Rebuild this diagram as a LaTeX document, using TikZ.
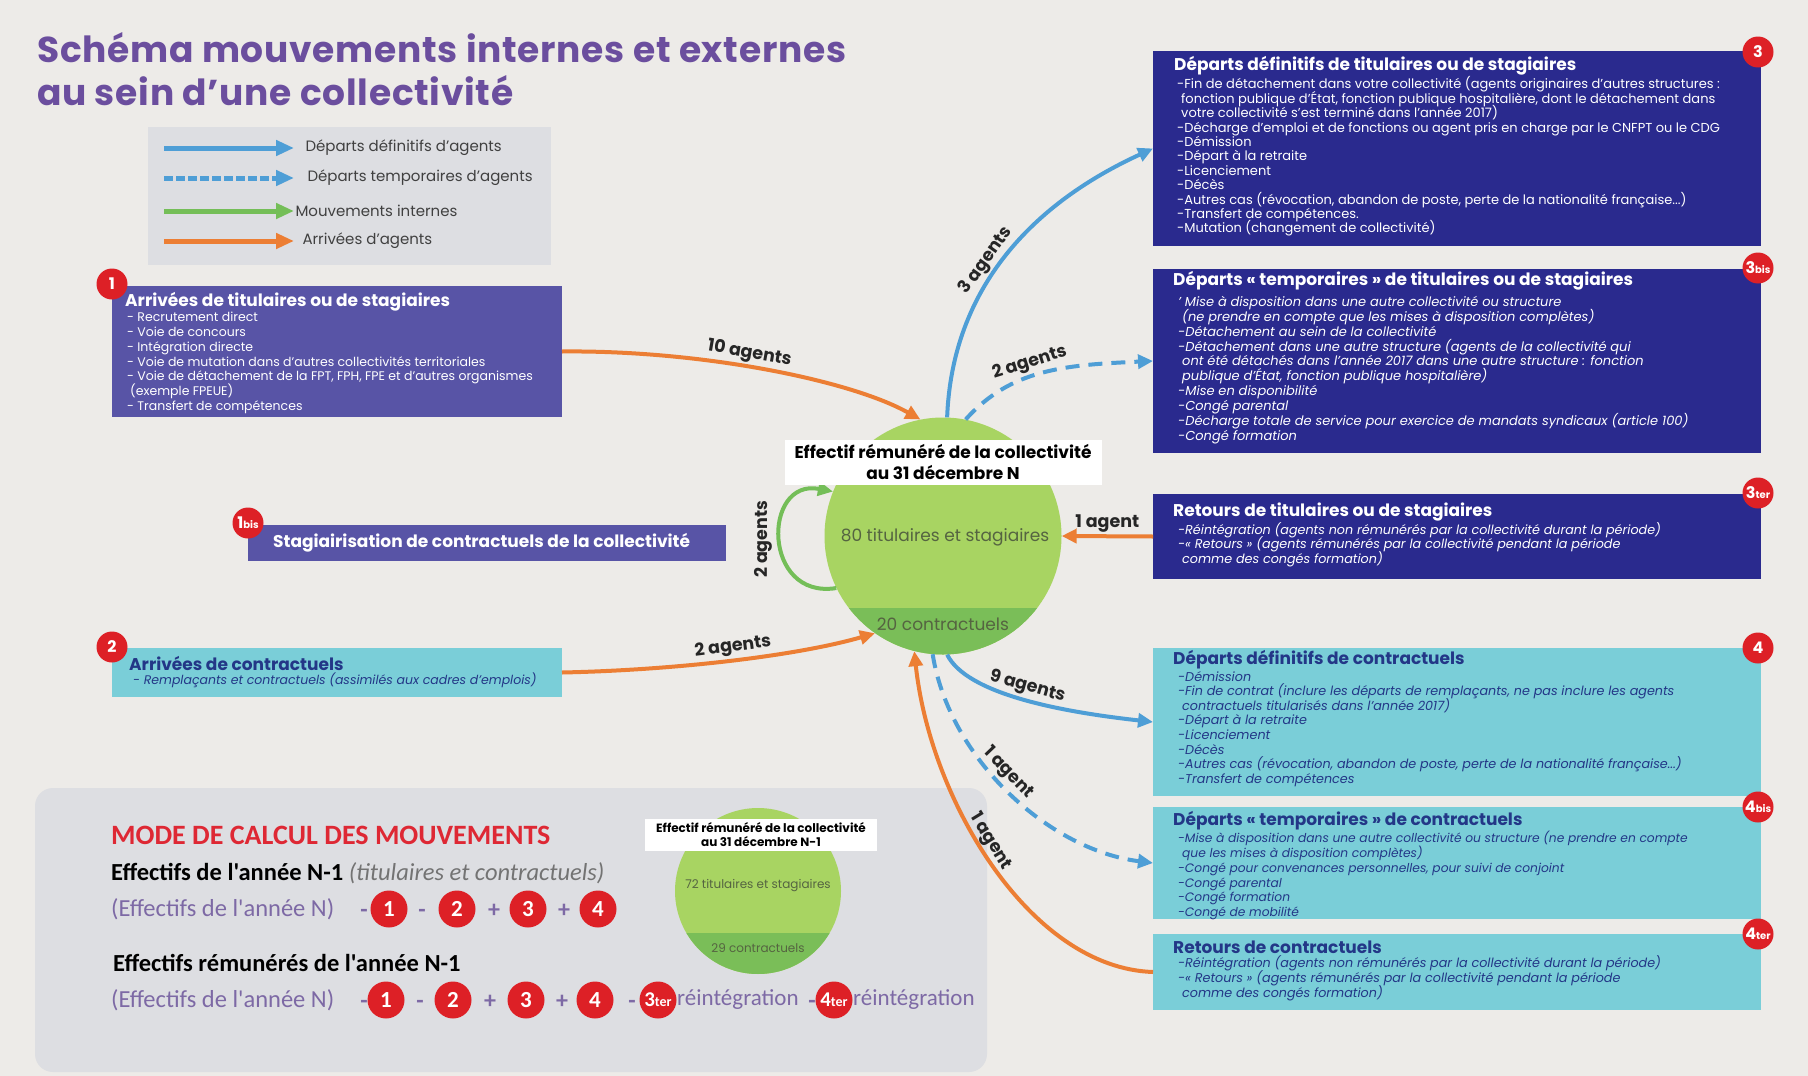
\documentclass[tikz,border=0pt]{standalone}
\usepackage{fontspec}
\setmainfont{Poppins}
\newfontfamily\carl{Carlito}
\usetikzlibrary{arrows.meta}
\definecolor{bg}{RGB}{237,235,232}
\definecolor{legbg}{RGB}{221,222,226}
\definecolor{ttl}{RGB}{107,78,158}
\definecolor{purp}{RGB}{88,84,166}
\definecolor{navy}{RGB}{42,42,142}
\definecolor{cyanb}{RGB}{122,206,216}
\definecolor{dblue}{RGB}{35,55,135}
\definecolor{bluea}{RGB}{78,158,214}
\definecolor{orangea}{RGB}{236,126,52}
\definecolor{greena}{RGB}{116,190,88}
\definecolor{lgreen}{RGB}{168,212,98}
\definecolor{dgreen}{RGB}{122,190,88}
\definecolor{redb}{RGB}{221,32,38}
\definecolor{frm}{RGB}{125,105,165}
\definecolor{circtxt}{RGB}{85,100,65}
\definecolor{redt}{RGB}{222,40,52}
\begin{document}
\lineskiplimit=-100pt
\lineskip=0pt
\begin{tikzpicture}[x=1pt,y=-1pt,
 badge/.style={circle, fill=redb, text=white, inner sep=0pt, minimum size=31pt, font=\bfseries\fontsize{16}{16}\selectfont},
 fbadge/.style={circle, fill=redb, text=white, inner sep=0pt, minimum size=37pt, font=\carl\bfseries\fontsize{23}{23}\selectfont},
 bx/.style={anchor=north west, inner sep=0pt, outer sep=0pt},
 btitle/.style={anchor=west, inner sep=0pt, font=\bfseries\fontsize{17}{20}\selectfont},
 blist/.style={anchor=north west, inner sep=0pt, align=left},
 arr/.style={line width=4pt, -{Triangle[length=15pt,width=14pt]}},
 darr/.style={arr, dash pattern=on 14pt off 9pt},
 lab/.style={font=\bfseries\fontsize{17.5}{17.5}\selectfont, text=black!85, inner sep=2pt},
 legt/.style={anchor=west, font=\fontsize{15}{15}\selectfont, text=black!75},
 frmt/.style={anchor=west, inner sep=0pt, font=\carl\fontsize{24.5}{24.5}\selectfont, text=frm},
 op/.style={anchor=base, inner sep=0pt, font=\carl\bfseries\fontsize{24}{24}\selectfont, text=frm},
]
\useasboundingbox (0,0) rectangle (1808,1076);
\fill[bg] (0,0) rectangle (1808,1076);

% title
\node[anchor=west, inner sep=0pt, text=ttl, font=\bfseries\fontsize{36}{36}\selectfont\addfontfeature{LetterSpace=2}] (title1) at (37,48) {Schéma mouvements internes et externes};
\node[anchor=west, inner sep=0pt, text=ttl, font=\bfseries\fontsize{36}{36}\selectfont\addfontfeature{LetterSpace=2}] (title2) at (37,91) {au sein d'une collectivité};

% legend
\node[bx, fill=legbg, minimum width=403pt, minimum height=138pt] (legend) at (148,127) {};
\coordinate (la1) at (164,148); \coordinate (lb1) at (294,148);
\coordinate (la2) at (164,178); \coordinate (lb2) at (294,178);
\coordinate (la3) at (164,211); \coordinate (lb3) at (294,211);
\coordinate (la4) at (164,241); \coordinate (lb4) at (294,241);
\draw[line width=5pt, bluea, -{Triangle[length=18pt,width=15pt]}] (la1) -- (lb1);
\draw[line width=5pt, bluea, dash pattern=on 9pt off 3pt, -{Triangle[length=18pt,width=15pt]}] (la2) -- (lb2);
\draw[line width=5pt, greena, -{Triangle[length=18pt,width=15pt]}] (la3) -- (lb3);
\draw[line width=5pt, orangea, -{Triangle[length=18pt,width=15pt]}] (la4) -- (lb4);
\node[legt] (lt1) at (302,148) {Départs définitifs d'agents};
\node[legt] (lt2) at (304,178) {Départs temporaires d'agents};
\node[legt] (lt3) at (292,211) {Mouvements internes};
\node[legt] (lt4) at (299,241) {Arrivées d'agents};

% bottom panel
\node[bx, fill=legbg, rounded corners=18pt, minimum width=952pt, minimum height=284pt] (panel) at (35,788) {};

% left boxes
\node[bx, fill=purp, minimum width=450pt, minimum height=131pt] (box1) at (112,286) {};
\node[btitle, text=white] (t1) at (125,302) {Arrivées de titulaires ou de stagiaires};
\node[blist, text=white, font=\fontsize{12.5}{14.8}\selectfont] (l1) at (127,312) {- Recrutement direct\\- Voie de concours\\- Intégration directe\\- Voie de mutation dans d'autres collectivités territoriales\\- Voie de détachement de la FPT, FPH, FPE et d'autres organismes\\\hspace*{3pt}(exemple FPEUE)\\- Transfert de compétences};

\node[bx, fill=purp, minimum width=478pt, minimum height=36pt] (box1bis) at (248,525) {};
\node[btitle, text=white] (t1bis) at (273,543) {Stagiairisation de contractuels de la collectivité};

\node[bx, fill=cyanb, minimum width=450pt, minimum height=49pt] (box2) at (112,648) {};
\node[btitle, text=dblue] (t2) at (129,663) {Arrivées de contractuels};
\node[blist, text=dblue, font=\itshape\fontsize{12.5}{14}\selectfont] (l2) at (133,673) {- Remplaçants et contractuels (assimilés aux cadres d'emplois)};

% right boxes
\node[bx, fill=navy, minimum width=608pt, minimum height=195pt] (box3) at (1153,51) {};
\node[btitle, text=white] (t3) at (1174,66) {Départs définitifs de titulaires ou de stagiaires};
\node[blist, text=white, font=\fontsize{13}{14.4}\selectfont] (l3) at (1177,76.5) {-Fin de détachement dans votre collectivité (agents originaires d'autres structures :\\\hspace*{4pt}fonction publique d'État, fonction publique hospitalière, dont le détachement dans\\\hspace*{4pt}votre collectivité s'est terminé dans l'année 2017)\\-Décharge d'emploi et de fonctions ou agent pris en charge par le CNFPT ou le CDG\\-Démission\\-Départ à la retraite\\-Licenciement\\-Décès\\-Autres cas (révocation, abandon de poste, perte de la nationalité française...)\\-Transfert de compétences.\\-Mutation (changement de collectivité)};

\node[bx, fill=navy, minimum width=608pt, minimum height=184pt] (box3bis) at (1153,269) {};
\node[btitle, text=white] (t3bis) at (1173,281) {Départs « temporaires » de titulaires ou de stagiaires};
\node[blist, text=white, font=\itshape\fontsize{13}{14.9}\selectfont] (l3bis) at (1178,296) {' Mise à disposition dans une autre collectivité ou structure\\\hspace*{4pt}(ne prendre en compte que les mises à disposition complètes)\\-Détachement au sein de la collectivité\\-Détachement dans une autre structure (agents de la collectivité qui\\\hspace*{4pt}ont été détachés dans l'année 2017 dans une autre structure : fonction\\\hspace*{4pt}publique d'État, fonction publique hospitalière)\\-Mise en disponibilité\\-Congé parental\\-Décharge totale de service pour exercice de mandats syndicaux (article 100)\\-Congé formation};

\node[bx, fill=navy, minimum width=608pt, minimum height=85pt] (box3ter) at (1153,494) {};
\node[btitle, text=white] (t3ter) at (1173,512) {Retours de titulaires ou de stagiaires};
\node[blist, text=white, font=\itshape\fontsize{12.75}{14.6}\selectfont] (l3ter) at (1178,522) {-Réintégration (agents non rémunérés par la collectivité durant la période)\\-« Retours » (agents rémunérés par la collectivité pendant la période\\\hspace*{4pt}comme des congés formation)};

\node[bx, fill=cyanb, minimum width=608pt, minimum height=148pt] (box4) at (1153,648) {};
\node[btitle, text=dblue] (t4) at (1173,660) {Départs définitifs de contractuels};
\node[blist, text=dblue, font=\itshape\fontsize{12.75}{14.6}\selectfont] (l4) at (1178,671) {-Démission\\-Fin de contrat (inclure les départs de remplaçants, ne pas inclure les agents\\\hspace*{4pt}contractuels titularisés dans l'année 2017)\\-Départ à la retraite\\-Licenciement\\-Décès\\-Autres cas (révocation, abandon de poste, perte de la nationalité française...)\\-Transfert de compétences};

\node[bx, fill=cyanb, minimum width=608pt, minimum height=112pt] (box4bis) at (1153,807) {};
\node[btitle, text=dblue] (t4bis) at (1173,821) {Départs « temporaires » de contractuels};
\node[blist, text=dblue, font=\itshape\fontsize{12.25}{14.8}\selectfont] (l4bis) at (1178,831) {-Mise à disposition dans une autre collectivité ou structure (ne prendre en compte\\\hspace*{4pt}que les mises à disposition complètes)\\-Congé pour convenances personnelles, pour suivi de conjoint\\-Congé parental\\-Congé formation\\-Congé de mobilité};

\node[bx, fill=cyanb, minimum width=608pt, minimum height=76pt] (box4ter) at (1153,934) {};
\node[btitle, text=dblue] (t4ter) at (1173,947) {Retours de contractuels};
\node[blist, text=dblue, font=\itshape\fontsize{12.75}{14.8}\selectfont] (l4ter) at (1178,955.5) {-Réintégration (agents non rémunérés par la collectivité durant la période)\\-« Retours » (agents rémunérés par la collectivité pendant la période\\\hspace*{4pt}comme des congés formation)};

% badges
\node[badge] (b1) at (112,284) {1};
\node[badge] (b1bis) at (248,523) {1\fontsize{10}{10}\selectfont bis};
\node[badge] (b2) at (112,647) {2};
\node[badge] (b3) at (1758,52) {3};
\node[badge] (b3bis) at (1758,268) {3\fontsize{10}{10}\selectfont bis};
\node[badge] (b3ter) at (1758,493) {3\fontsize{10}{10}\selectfont ter};
\node[badge] (b4) at (1758,648) {4};
\node[badge] (b4bis) at (1758,807) {4\fontsize{10}{10}\selectfont bis};
\node[badge] (b4ter) at (1758,934) {4\fontsize{10}{10}\selectfont ter};

% central circle
\node[circle, fill=lgreen, minimum size=237pt, inner sep=0pt,
  path picture={\fill[dgreen] ([yshift=-72pt]path picture bounding box.west) rectangle (path picture bounding box.south east);}] (circ) at (943,536) {};
\node[text=circtxt, font=\fontsize{17}{17}\selectfont] (c80) at (945,537) {80 titulaires et stagiaires};
\node[text=circtxt, font=\fontsize{17}{17}\selectfont] (c20) at (943,624) {20 contractuels};

% connectors
\draw[arr, orangea] (box1.east) .. controls (700,350) and (850,380) .. node[lab, pos=0.45, sloped, above] {10 agents} (circ.101);
\draw[arr, orangea] (box2.east) .. controls (680,670) and (800,655) .. node[lab, pos=0.5, sloped, above] {2 agents} (circ.235);
\draw[arr, greena] (circ.206) .. controls (762,600) and (762,478) .. node[lab, pos=0.5, rotate=90, anchor=south, inner sep=6pt] {2 agents} (circ.158);
\draw[arr, orangea] (box3ter.west) -- node[lab, midway, above] {1 agent} (circ.east);
\draw[arr, bluea] (circ.88) .. controls +(5,-130) and +(-120,55) .. node[lab, pos=0.45, sloped, above] {3 agents} (box3.west);
\draw[darr, bluea] (circ.79) .. controls +(45,-50) and +(-90,4) .. node[lab, pos=0.45, sloped, above] {2 agents} (box3bis.west);
\draw[arr, bluea] (circ.-88) .. controls +(20,40) and +(-90,-10) .. node[lab, pos=0.5, sloped, above] {9 agents} (box4.west);
\draw[darr, bluea] (circ.-95) .. controls +(17,106) and +(-103,-13) .. node[lab, pos=0.45, sloped, above] {1 agent} (box4bis.west);
\draw[arr, orangea] (box4ter.west) .. controls (1030,968) and (930,800) .. node[lab, pos=0.55, sloped, above, inner sep=0pt] {1 agent} (circ.-104);

% circle label
\node[fill=white, inner sep=1pt, minimum width=317pt, minimum height=45pt, align=center, font=\bfseries\fontsize{17}{21}\selectfont] (clab) at (943,462) {Effectif rémunéré de la collectivité\\au 31 décembre N};

% bottom panel content
\node[anchor=west, inner sep=0pt, text=redt, font=\carl\bfseries\fontsize{28}{28}\selectfont] (mode) at (111,835) {MODE DE CALCUL DES MOUVEMENTS};
\node[anchor=west, inner sep=0pt, font=\carl\fontsize{24.5}{24.5}\selectfont] (eff1) at (111,873) {\textbf{Effectifs de l'année N-1} \textcolor{black!55}{\itshape(titulaires et contractuels)}};
\node[frmt] (f1) at (111,909) {(Effectifs de l'année N)};
\node[op] (o11) at (364,917) {-};
\node[fbadge] (fb11) at (389,909) {1};
\node[op] (o12) at (422,917) {-};
\node[fbadge] (fb12) at (457,909) {2};
\node[op] (o13) at (494,917) {+};
\node[fbadge] (fb13) at (528,909) {3};
\node[op] (o14) at (564,917) {+};
\node[fbadge] (fb14) at (598,909) {4};

\node[anchor=west, inner sep=0pt, font=\carl\bfseries\fontsize{24.5}{24.5}\selectfont] (eff2) at (113,963) {Effectifs rémunérés de l'année N-1};
\node[frmt] (f2) at (111,1000) {(Effectifs de l'année N)};
\node[op] (o21) at (364,1008) {-};
\node[fbadge] (fb21) at (386,1000) {1};
\node[op] (o22) at (420,1008) {-};
\node[fbadge] (fb22) at (453,1000) {2};
\node[op] (o23) at (490,1008) {+};
\node[fbadge] (fb23) at (526,1000) {3};
\node[op] (o24) at (562,1008) {+};
\node[fbadge] (fb24) at (595,1000) {4};
\node[op] (o25) at (632,1008) {-};
\node[fbadge, font=\carl\bfseries\fontsize{21}{21}\selectfont] (fb25) at (658,1000) {3\fontsize{14}{14}\selectfont ter};
\node[frmt, font=\carl\fontsize{23}{23}\selectfont] (r1) at (677,1000) {réintégration};
\node[op] (o26) at (812,1008) {-};
\node[fbadge, font=\carl\bfseries\fontsize{21}{21}\selectfont] (fb26) at (834,1000) {4\fontsize{14}{14}\selectfont ter};
\node[frmt, font=\carl\fontsize{23}{23}\selectfont] (r2) at (853,1000) {réintégration};

% small circle
\node[circle, fill=lgreen, minimum size=166pt, inner sep=0pt,
  path picture={\fill[dgreen] ([yshift=-42pt]path picture bounding box.west) rectangle (path picture bounding box.south east);}] (scirc) at (758,891) {};
\node[text=circtxt, font=\fontsize{12}{12}\selectfont] (s72) at (758,886) {72 titulaires et stagiaires};
\node[text=circtxt, font=\fontsize{12}{12}\selectfont] (s29) at (758,948) {29 contractuels};
\node[fill=white, inner sep=1pt, minimum width=232pt, minimum height=32pt, align=center, font=\bfseries\fontsize{12}{14}\selectfont] (slab) at (761,835) {Effectif rémunéré de la collectivité\\au 31 décembre N-1};
\end{tikzpicture}
\end{document}
